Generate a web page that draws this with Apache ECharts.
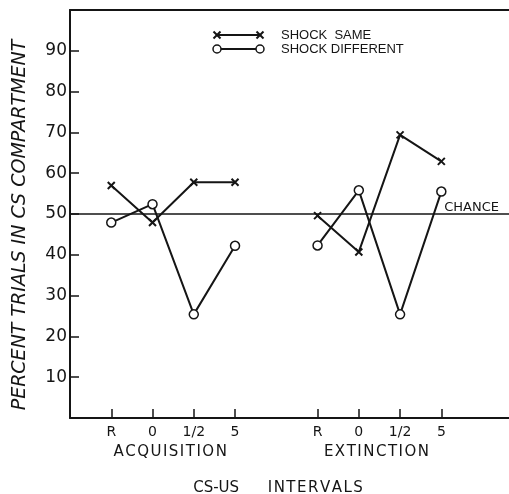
<!DOCTYPE html>
<html>
<head>
<meta charset="utf-8">
<script src="https://cdn.jsdelivr.net/npm/echarts@6/dist/echarts.min.js"></script>
<style>
  html, body { margin: 0; padding: 0; background: #fff; }
  #chart { width: 509px; height: 494px; }
</style>
</head>
<body>
<div id="chart"></div>
<script>
// positions of the CS-US intervals along x (gap between the two phases)
const xPos = [1, 2, 3, 4, 6, 7, 8, 9];
const tickLabels = ['R', '0', '1/2', '5', 'R', '0', '1/2', '5'];
const yTicks = [10, 20, 30, 40, 50, 60, 70, 80, 90];
const phases = ['ACQUISITION', 'EXTINCTION'];

// percent trials in CS compartment
const sameAcq = [57.0, 47.9, 57.8, 57.8];
const sameExt = [49.6, 40.7, 69.4, 62.9];
const diffAcq = [47.9, 52.4, 25.4, 42.2];
const diffExt = [42.3, 55.8, 25.4, 55.5];
const chance = 50;

const ink = '#151515';
const font = 'DejaVu Sans';
const crossPath = 'path://M0,0L10,10M10,0L0,10';

function pairs(xs, ys) {
    return ys.map((y, i) => [xs[i], y]);
}

// a bit of letter spacing, like the hand lettering
function spaced(s) {
    return s.split('').join('\u200A');
}

function lineSeries(name, data, isSame) {
    return {
        name: name,
        type: 'line',
        data: data,
        symbol: isSame ? crossPath : 'circle',
        symbolSize: isSame ? 7 : 9,
        showSymbol: true,
        lineStyle: { color: ink, width: 2 },
        itemStyle: isSame
            ? { color: 'none', borderColor: ink, borderWidth: 2 }
            : { color: '#fff', borderColor: ink, borderWidth: 1.5 },
        z: isSame ? 3 : 4,
        animation: false
    };
}

let myChart = echarts.init(document.getElementById('chart'));

let option = {
    backgroundColor: '#fff',
    animation: false,
    grid: { left: 70, right: 0, top: 10, bottom: 76, outerBoundsMode: 'none' },
    xAxis: [
        {
            type: 'value',
            min: 0,
            max: 10.64,
            axisLine: { lineStyle: { color: ink, width: 2 } },
            axisTick: { inside: true, length: 9, customValues: xPos, lineStyle: { color: ink, width: 1.5 } },
            axisLabel: {
                customValues: xPos,
                formatter: (v) => tickLabels[xPos.indexOf(v)],
                fontFamily: font, fontSize: 14, color: ink, margin: 7
            },
            splitLine: { show: false }
        },
        {
            type: 'value',
            position: 'top',
            min: 0,
            max: 10.64,
            axisLine: { show: true, lineStyle: { color: ink, width: 2 } },
            axisTick: { show: false },
            axisLabel: { show: false },
            splitLine: { show: false }
        }
    ],
    yAxis: {
        type: 'value',
        min: 0,
        max: 100,
        interval: 10,
        name: 'PERCENT TRIALS IN CS COMPARTMENT',
        nameLocation: 'middle',
        nameGap: 40,
        nameTextStyle: {
            fontFamily: font, fontStyle: 'italic', fontSize: 19, color: ink,
            padding: [0, 22, 0, 0]
        },
        axisLine: { lineStyle: { color: ink, width: 2 } },
        axisTick: { inside: true, length: 9, lineStyle: { color: ink, width: 1.5 } },
        axisLabel: {
            customValues: yTicks,
            fontFamily: font, fontSize: 17, color: ink, margin: 3
        },
        splitLine: { show: false }
    },
    series: [
        Object.assign(lineSeries('SHOCK SAME', pairs(xPos.slice(0, 4), sameAcq), true), {
            markLine: {
                silent: true,
                symbol: 'none',
                lineStyle: { color: ink, width: 1.5, type: 'solid' },
                label: {
                    position: 'insideEndTop',
                    formatter: 'CHANCE',
                    fontFamily: font, fontSize: 13, color: ink,
                    distance: [10, 0]
                },
                data: [{ yAxis: chance }]
            }
        }),
        lineSeries('SHOCK SAME', pairs(xPos.slice(4), sameExt), true),
        lineSeries('SHOCK DIFFERENT', pairs(xPos.slice(0, 4), diffAcq), false),
        lineSeries('SHOCK DIFFERENT', pairs(xPos.slice(4), diffExt), false)
    ]
};
myChart.setOption(option);

// phase names under each group of ticks, axis title, legend drawn by hand at the top
let texts = phases.map((p, i) => {
    let mid = (xPos[i * 4] + xPos[i * 4 + 3]) / 2;
    let px = myChart.convertToPixel({ xAxisIndex: 0 }, mid);
    return {
        type: 'text',
        x: px - 3, y: 445,
        style: { text: spaced(p), fontFamily: font, fontSize: 15, fill: ink, align: 'center' }
    };
});
texts.push({
    type: 'text',
    x: 278, y: 481,
    style: { text: 'CS-US      ' + spaced('INTERVALS'), fontFamily: font, fontSize: 15, fill: ink, align: 'center' }
});

function cross(cx, cy) {
    let d = 3.5;
    return [
        { type: 'line', shape: { x1: cx - d, y1: cy - d, x2: cx + d, y2: cy + d }, style: { stroke: ink, lineWidth: 2 } },
        { type: 'line', shape: { x1: cx + d, y1: cy - d, x2: cx - d, y2: cy + d }, style: { stroke: ink, lineWidth: 2 } }
    ];
}

const legendFont = 'Liberation Sans';
let legend = [
    { type: 'line', shape: { x1: 217, y1: 35, x2: 260, y2: 35 }, style: { stroke: ink, lineWidth: 2 } }
].concat(cross(217, 35), cross(260, 35), [
    { type: 'line', shape: { x1: 217, y1: 49, x2: 260, y2: 49 }, style: { stroke: ink, lineWidth: 2 } },
    { type: 'circle', shape: { cx: 217, cy: 49, r: 4 }, style: { fill: '#fff', stroke: ink, lineWidth: 1.5 } },
    { type: 'circle', shape: { cx: 260, cy: 49, r: 4 }, style: { fill: '#fff', stroke: ink, lineWidth: 1.5 } },
    { type: 'text', x: 281, y: 29, style: { text: 'SHOCK  SAME', fontFamily: legendFont, fontSize: 13, fill: ink } },
    { type: 'text', x: 281, y: 43, style: { text: 'SHOCK DIFFERENT', fontFamily: legendFont, fontSize: 13, fill: ink } }
]);

myChart.setOption({ graphic: texts.concat(legend) });
</script>
</body>
</html>
